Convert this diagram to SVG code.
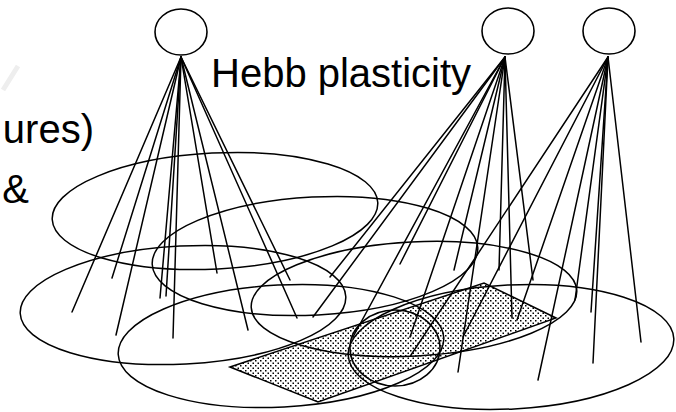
<svg xmlns="http://www.w3.org/2000/svg" width="676" height="412" viewBox="0 0 676 412">
<defs>
<pattern id="dots" width="5" height="5" patternUnits="userSpaceOnUse">
<rect x="0" y="0" width="1.5" height="1.5" fill="#000"/>
<rect x="2.5" y="2.5" width="1.5" height="1.5" fill="#000"/>
</pattern>
<style>
.field{fill:none;stroke:#000;stroke-width:1.5}
.neuron{fill:#fff;stroke:#000;stroke-width:1.6}
.conn line{stroke:#000;stroke-width:1.5;stroke-linecap:round}
.lbl{font-family:"Liberation Sans",Arial,sans-serif;font-size:40px;fill:#000}
</style>
</defs>
<rect width="676" height="412" fill="#fff"/>
<path d="M3,90 L18,66" stroke="#eeeeee" stroke-width="5" fill="none"/>
<text class="lbl" x="94" y="143" text-anchor="end">ures)</text>
<text class="lbl" x="29" y="203" text-anchor="end">&amp;</text>
<text class="lbl" x="211" y="87">Hebb plasticity</text>
<g id="stimulus">
<polygon points="230,367 484,283 556,318 318,402" fill="url(#dots)" stroke="#000" stroke-width="1.5"/>
</g>
<g id="fields">
<ellipse class="field" cx="215" cy="211" rx="163" ry="58" transform="rotate(-3 215 211)"/>
<ellipse class="field" cx="315" cy="256" rx="163" ry="59" transform="rotate(-3 315 256)"/>
<ellipse class="field" cx="183" cy="305" rx="163" ry="59" transform="rotate(-3 183 305)"/>
<ellipse class="field" cx="281" cy="346" rx="163" ry="61" transform="rotate(-3 281 346)"/>
<ellipse class="field" cx="414" cy="299" rx="163" ry="57" transform="rotate(-3 414 299)"/>
<ellipse class="field" cx="511" cy="347" rx="163" ry="62" transform="rotate(-3 511 347)"/>
<ellipse class="field" cx="395" cy="348" rx="45" ry="38"/>
</g>
<g id="connectors" class="conn">
<line x1="181" y1="57" x2="72" y2="312"/>
<line x1="181" y1="57" x2="112" y2="278"/>
<line x1="181" y1="57" x2="116" y2="335"/>
<line x1="181" y1="57" x2="160" y2="298"/>
<line x1="181" y1="57" x2="166" y2="296"/>
<line x1="181" y1="57" x2="173" y2="338"/>
<line x1="181" y1="57" x2="217" y2="273"/>
<line x1="181" y1="57" x2="248" y2="330"/>
<line x1="181" y1="57" x2="297" y2="318"/>
<line x1="181" y1="57" x2="290" y2="280"/>
<line x1="505" y1="57" x2="330" y2="277"/>
<line x1="505" y1="57" x2="313" y2="317"/>
<line x1="505" y1="57" x2="353" y2="337"/>
<line x1="505" y1="57" x2="400" y2="264"/>
<line x1="505" y1="57" x2="410" y2="337"/>
<line x1="505" y1="57" x2="454" y2="270"/>
<line x1="505" y1="57" x2="458" y2="372"/>
<line x1="505" y1="57" x2="499" y2="270"/>
<line x1="505" y1="57" x2="512" y2="318"/>
<line x1="505" y1="57" x2="533" y2="280"/>
<line x1="608" y1="57" x2="411" y2="355"/>
<line x1="608" y1="57" x2="463" y2="337"/>
<line x1="608" y1="57" x2="517" y2="320"/>
<line x1="608" y1="57" x2="538" y2="380"/>
<line x1="608" y1="57" x2="575" y2="300"/>
<line x1="608" y1="57" x2="591" y2="312"/>
<line x1="608" y1="57" x2="593" y2="363"/>
<line x1="608" y1="57" x2="641" y2="342"/>
</g>
<g id="neuron1"><ellipse class="neuron" cx="181" cy="32" rx="26" ry="23"/></g>
<g id="neuron2"><ellipse class="neuron" cx="508" cy="31" rx="26" ry="23"/></g>
<g id="neuron3"><ellipse class="neuron" cx="609" cy="31" rx="26" ry="23"/></g>
</svg>
